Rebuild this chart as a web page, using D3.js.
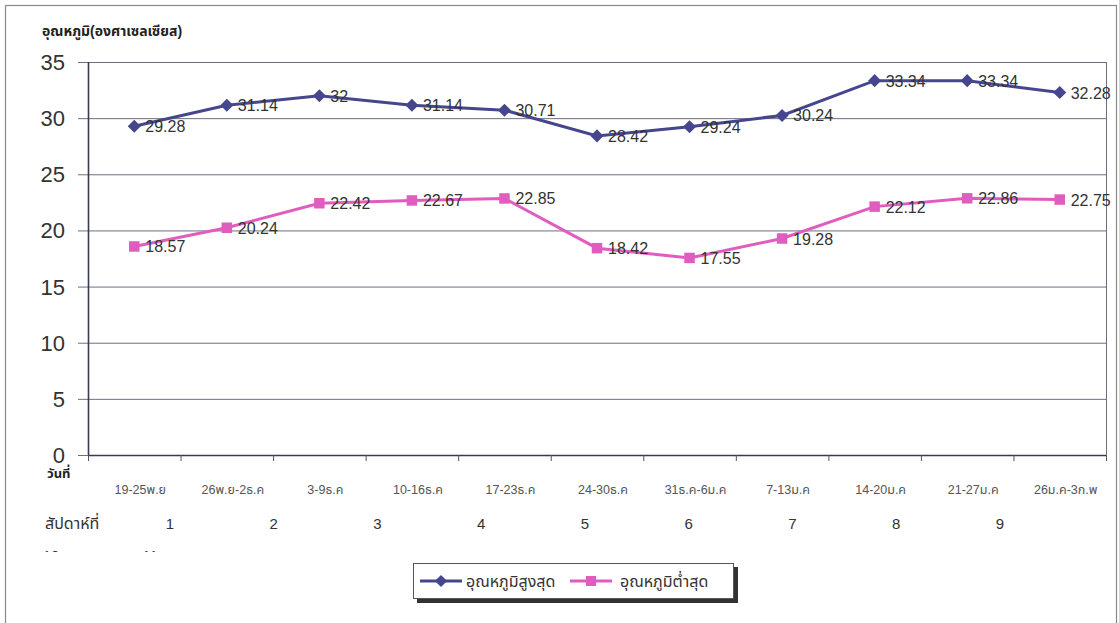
<!DOCTYPE html>
<html><head><meta charset="utf-8">
<script src="https://cdn.jsdelivr.net/npm/d3@7"></script>
<style>body{margin:0;background:#fff}svg{display:block}</style>
</head><body><svg id="c" width="1119" height="623"></svg>
<script>
const categories = ["19-25พ.ย","26พ.ย-2ธ.ค","3-9ธ.ค","10-16ธ.ค","17-23ธ.ค","24-30ธ.ค","31ธ.ค-6ม.ค","7-13ม.ค","14-20ม.ค","21-27ม.ค","26ม.ค-3ก.พ"];
const maxTemp = [29.28,31.14,32,31.14,30.71,28.42,29.24,30.24,33.34,33.34,32.28];
const minTemp = [18.57,20.24,22.42,22.67,22.85,18.42,17.55,19.28,22.12,22.86,22.75];
const yTicks = [0,5,10,15,20,25,30,35];
const weeks = [1,2,3,4,5,6,7,8,9];
const weeksWrapped = [10,11];
const seriesNames = ["อุณหภูมิสูงสุด","อุณหภูมิต่ำสุด"];
const yTitle = "อุณหภูมิ(องศาเซลเซียส)";

const FONT = "'Liberation Sans', Arial, 'Noto Sans Thai', 'DejaVu Sans', sans-serif";
const svg = d3.select("#c");
const L = 88, R = 1106, T = 62, B = 455;
const navy = "#46468E", pink = "#E05CBE";

svg.append("rect").attr("x",5.5).attr("y",5.5).attr("width",1111).attr("height",620)
  .attr("fill","#fff").attr("stroke","#8a8a8a").attr("stroke-width",1.2);

const x = d3.scaleBand().domain(categories).range([L,R]);
const y = d3.scaleLinear().domain([0,35]).range([B,T]);

const g = svg.append("g").attr("font-family",FONT);
g.selectAll("line.grid").data(yTicks).join("line").attr("class","grid")
  .attr("x1",78).attr("x2",R).attr("y1",d=>y(d)+0.5).attr("y2",d=>y(d)+0.5)
  .attr("stroke","#6e6e80").attr("stroke-width",1);
g.append("line").attr("x1",R+0.5).attr("x2",R+0.5).attr("y1",T).attr("y2",B).attr("stroke","#6e6e80");
g.append("line").attr("x1",L+0.5).attr("x2",L+0.5).attr("y1",T).attr("y2",B).attr("stroke","#3a3a55").attr("stroke-width",1.6);
g.append("line").attr("x1",L).attr("x2",R).attr("y1",B+0.5).attr("y2",B+0.5).attr("stroke","#3a3a55").attr("stroke-width",1.6);
const bounds = categories.map(c=>x(c)).concat([R]);
g.selectAll("line.xt").data(bounds).join("line").attr("class","xt")
  .attr("x1",d=>d+0.5).attr("x2",d=>d+0.5).attr("y1",B).attr("y2",B+6)
  .attr("stroke","#555").attr("stroke-width",1);
g.selectAll("text.yl").data(yTicks).join("text").attr("class","yl")
  .attr("x",65).attr("y",d=>y(d)+8).attr("text-anchor","end")
  .attr("font-size",22).attr("fill","#333").text(d=>d);
g.append("text").attr("x",42).attr("y",36).attr("font-size",14).attr("font-weight","bold")
  .attr("fill","#222").text(yTitle);
g.selectAll("text.xl").data(categories).join("text").attr("class","xl")
  .attr("x",d=>x(d)+x.bandwidth()/2+6).attr("y",494).attr("text-anchor","middle")
  .attr("font-size",12.5).attr("fill","#555").text(d=>d);
g.append("text").attr("x",47).attr("y",478).attr("font-size",13).attr("font-weight","bold").attr("fill","#222").text("วันที่");
g.append("text").attr("x",45).attr("y",529).attr("font-size",16).attr("fill","#333").text("สัปดาห์ที่");
const wx = d3.scaleLinear().domain([1,9]).range([170,1000]);
g.selectAll("text.wk").data(weeks).join("text").attr("class","wk")
  .attr("x",d=>wx(d)).attr("y",529).attr("text-anchor","middle").attr("font-size",15).attr("fill","#333").text(d=>d);
svg.append("clipPath").attr("id","clipw").append("rect").attr("x",0).attr("y",540).attr("width",300).attr("height",12);
const wwx = d3.scalePoint().domain(weeksWrapped).range([51,150]);
g.append("g").attr("clip-path","url(#clipw)").selectAll("text").data(weeksWrapped).join("text")
  .attr("x",d=>wwx(d)).attr("y",561).attr("text-anchor","middle").attr("font-size",15).attr("fill","#333").text(d=>d);

const series = [
  {name:seriesNames[0], values:maxTemp, color:navy, diamond:true},
  {name:seriesNames[1], values:minTemp, color:pink, diamond:false}
];
const cx = i => x(categories[i]) + x.bandwidth()/2;
const marker = (sel, s, size) => sel.attr("d",d3.symbol().type(d3.symbolSquare).size(size)).attr("fill",s.color);
series.forEach(s=>{
  const line = d3.line().x((d,i)=>cx(i)).y(d=>y(d));
  g.append("path").datum(s.values).attr("d",line).attr("fill","none").attr("stroke",s.color).attr("stroke-width",3);
  g.selectAll(null).data(s.values).join("path")
    .attr("transform",(d,i)=>`translate(${cx(i)},${y(d)})` + (s.diamond?" rotate(45)":""))
    .call(marker, s, s.diamond?85:110);
  g.selectAll(null).data(s.values).join("text")
    .attr("x",(d,i)=>cx(i)+11).attr("y",d=>y(d)+6).attr("font-size",16).attr("fill","#333").text(d=>d);
});

const lg = svg.append("g").attr("font-family",FONT);
lg.append("rect").attr("x",417).attr("y",567).attr("width",321).attr("height",36).attr("fill","#333");
lg.append("rect").attr("x",413.5).attr("y",563.5).attr("width",320).attr("height",35).attr("fill","#fff").attr("stroke","#555");
const items = [{s:series[0],x0:420,tx:466},{s:series[1],x0:570,tx:620}];
items.forEach(it=>{
  lg.append("line").attr("x1",it.x0).attr("x2",it.x0+42).attr("y1",581).attr("y2",581).attr("stroke",it.s.color).attr("stroke-width",3);
  lg.append("path").attr("transform",`translate(${it.x0+21},581)`+(it.s.diamond?" rotate(45)":""))
    .call(marker, it.s, it.s.diamond?75:100);
  lg.append("text").attr("x",it.tx).attr("y",587).attr("font-size",16).attr("fill","#333").text(it.s.name);
});
</script></body></html>
